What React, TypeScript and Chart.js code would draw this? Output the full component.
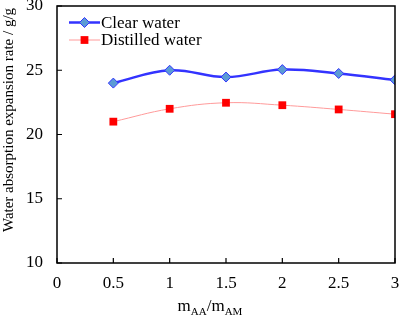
import React, { useEffect, useRef } from 'react';
import { Chart, registerables } from 'chart.js';

Chart.register(...registerables);

const ratios = [0.5, 1, 1.5, 2, 2.5, 3];
const clearWater = [24.0, 25.0, 24.47, 25.05, 24.75, 24.25];
const distilledWater = [21.0, 22.0, 22.47, 22.28, 21.95, 21.58];
const seriesNames = ['Clear water', 'Distilled water'];
const xRange = [0, 3];
const yRange = [10, 30];
const yTitle = 'Water absorption expansion rate / g/g';
const xTitleParts = [
  { text: 'm', sub: false },
  { text: 'AA', sub: true },
  { text: '/m', sub: false },
  { text: 'AM', sub: true },
];

const FONT = '"Liberation Serif", "Times New Roman", serif';

const framePlugin = {
  id: 'framePlugin',
  afterDraw(chart: any) {
    const { ctx, chartArea } = chart;
    const xs = chart.scales.x;
    const ys = chart.scales.y;
    ctx.save();
    ctx.strokeStyle = '#000';
    ctx.lineWidth = 1.5;
    ctx.strokeRect(chartArea.left, chartArea.top, chartArea.right - chartArea.left, chartArea.bottom - chartArea.top);
    ctx.lineWidth = 1.2;
    ctx.beginPath();
    xs.ticks.forEach((t: any) => {
      const px = xs.getPixelForValue(t.value);
      ctx.moveTo(px, chartArea.bottom);
      ctx.lineTo(px, chartArea.bottom - 5);
    });
    ys.ticks.forEach((t: any) => {
      const py = ys.getPixelForValue(t.value);
      ctx.moveTo(chartArea.left, py);
      ctx.lineTo(chartArea.left + 5, py);
    });
    ctx.stroke();

    // y title
    ctx.fillStyle = '#000';
    ctx.font = `15px ${FONT}`;
    ctx.textAlign = 'center';
    ctx.textBaseline = 'middle';
    ctx.translate(9, 120);
    ctx.rotate(-Math.PI / 2);
    ctx.fillText(yTitle, 0, 0);
    ctx.setTransform(1, 0, 0, 1, 0, 0);

    // x title with subscripts
    const mainFont = `17px ${FONT}`;
    const subFont = `11px ${FONT}`;
    let total = 0;
    xTitleParts.forEach((p) => {
      ctx.font = p.sub ? subFont : mainFont;
      total += ctx.measureText(p.text).width;
    });
    let x = 210 - total / 2;
    const baseline = 311;
    ctx.textAlign = 'left';
    ctx.textBaseline = 'alphabetic';
    xTitleParts.forEach((p) => {
      ctx.font = p.sub ? subFont : mainFont;
      ctx.fillText(p.text, x, p.sub ? baseline + 4 : baseline);
      x += ctx.measureText(p.text).width;
    });

    // legend
    chart.data.datasets.forEach((ds: any, i: number) => {
      const y = 22.5 + i * 17.5;
      const x0 = 69;
      const x1 = 100;
      ctx.strokeStyle = ds.borderColor;
      ctx.lineWidth = ds.borderWidth;
      ctx.beginPath();
      ctx.moveTo(x0, y);
      ctx.lineTo(x1, y);
      ctx.stroke();
      const cx = (x0 + x1) / 2;
      ctx.fillStyle = ds.pointBackgroundColor;
      ctx.strokeStyle = ds.pointBorderColor;
      ctx.lineWidth = ds.pointBorderWidth;
      ctx.beginPath();
      if (ds.pointStyle === 'rectRot') {
        const r = ds.pointRadius;
        ctx.moveTo(cx, y - r);
        ctx.lineTo(cx + r, y);
        ctx.lineTo(cx, y + r);
        ctx.lineTo(cx - r, y);
        ctx.closePath();
      } else {
        const s = ds.pointRadius * Math.SQRT1_2;
        ctx.rect(cx - s, y - s, 2 * s, 2 * s);
      }
      ctx.fill();
      if (ds.pointBorderWidth > 0) ctx.stroke();
      ctx.fillStyle = '#000';
      ctx.font = `17px ${FONT}`;
      ctx.textAlign = 'left';
      ctx.textBaseline = 'middle';
      ctx.fillText(ds.label, x1 + 1, y + 1);
    });
    ctx.restore();
  },
};

export default function App() {
  const ref = useRef<HTMLCanvasElement>(null);
  useEffect(() => {
    document.body.style.margin = '0';
    const chart = new Chart(ref.current as HTMLCanvasElement, {
      type: 'scatter',
      data: {
        datasets: [
          {
            label: seriesNames[0],
            data: ratios.map((r, i) => ({ x: r, y: clearWater[i] })),
            showLine: true,
            tension: 0.4,
            borderColor: '#3333ff',
            borderWidth: 2.5,
            pointStyle: 'rectRot',
            pointRadius: 5,
            pointBackgroundColor: '#5b9bd5',
            pointBorderColor: '#3333ff',
            pointBorderWidth: 1,
          },
          {
            label: seriesNames[1],
            data: ratios.map((r, i) => ({ x: r, y: distilledWater[i] })),
            showLine: true,
            tension: 0.4,
            borderColor: '#ff9a9a',
            borderWidth: 1,
            pointStyle: 'rect',
            pointRadius: 5.5,
            pointBackgroundColor: '#ff0000',
            pointBorderColor: '#ff0000',
            pointBorderWidth: 0,
          },
        ],
      },
      options: {
        animation: false,
        responsive: false,
        maintainAspectRatio: false,
        layout: { padding: { top: 5, right: 5, left: 0, bottom: 0 } },
        plugins: { legend: { display: false }, tooltip: { enabled: false } },
        scales: {
          x: {
            type: 'linear',
            min: xRange[0],
            max: xRange[1],
            grid: { display: false, drawTicks: false },
            border: { display: false },
            ticks: {
              stepSize: 0.5,
              color: '#000',
              padding: 10,
              font: { family: FONT, size: 17 },
              callback: (v: any) => String(Math.round(Number(v) * 10) / 10),
            },
            afterFit: (s: any) => {
              s.height = 54;
              s.paddingLeft = 0;
              s.paddingRight = 0;
            },
          },
          y: {
            type: 'linear',
            min: yRange[0],
            max: yRange[1],
            grid: { display: false, drawTicks: false },
            border: { display: false },
            ticks: {
              stepSize: 5,
              color: '#000',
              padding: 14,
              font: { family: FONT, size: 17 },
              callback: (v: any) => String(v),
            },
            afterFit: (s: any) => {
              s.width = 57;
              s.paddingTop = 0;
              s.paddingBottom = 0;
            },
          },
        },
      },
      plugins: [framePlugin],
    });
    return () => chart.destroy();
  }, []);
  return (
    <div style={{ position: 'absolute', left: 0, top: 0, width: 401, height: 317, background: '#fff' }}>
      <canvas ref={ref} width={401} height={317} />
    </div>
  );
}
